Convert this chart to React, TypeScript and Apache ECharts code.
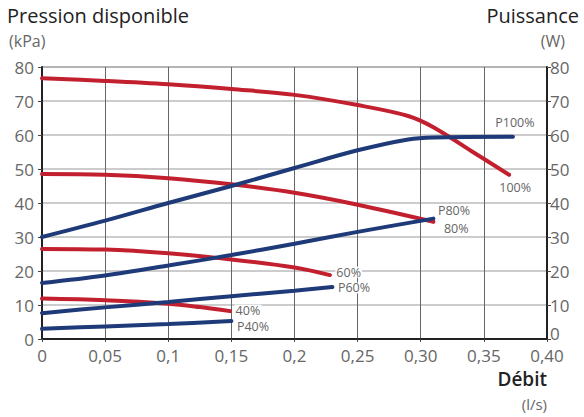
import { useEffect, useRef } from 'react';
import * as echarts from 'echarts';

// x axis: flow (l/s), y axes: pressure (kPa) left, power (W) right
const xTickLabels = ['0', '0,05', '0,1', '0,15', '0,2', '0,25', '0,30', '0,35', '0,40'];

// pressure curves (red)
const pressure100 = [
    [0, 76.7], [0.05, 75.9], [0.1, 74.9], [0.15, 73.5], [0.2, 71.8], [0.25, 68.8],
    [0.29, 65.6], [0.31, 62.3], [0.34, 55.3], [0.37, 48.3],
];
const pressure80 = [[0, 48.5], [0.05, 48.3], [0.1, 47.3], [0.15, 45.5], [0.2, 43], [0.25, 39.5], [0.31, 34.5]];
const pressure60 = [[0, 26.5], [0.05, 26.3], [0.1, 25.2], [0.15, 23.4], [0.2, 21], [0.228, 18.8]];
const pressure40 = [[0, 11.9], [0.05, 11.4], [0.1, 10.4], [0.125, 9.4], [0.149, 8.2]];

// power curves (blue)
const power100 = [
    [0, 30], [0.05, 34.8], [0.1, 40], [0.15, 45], [0.2, 50.3], [0.25, 55.5],
    [0.29, 58.7], [0.31, 59.3], [0.373, 59.5],
];
const power80 = [[0, 16.5], [0.05, 18.7], [0.1, 21.6], [0.15, 24.7], [0.2, 28], [0.25, 31.5], [0.31, 35.4]];
const power60 = [[0, 7.6], [0.05, 9.3], [0.1, 10.9], [0.15, 12.6], [0.2, 14.2], [0.23, 15.3]];
const power40 = [[0, 3.0], [0.05, 3.7], [0.1, 4.4], [0.15, 5.3]];

const RED = '#c2202f';
const BLUE = '#1e3a78';
const FONT = 'Open Sans';

function curve(name: string, data: number[][], color: string, yAxisIndex: number, label: any) {
    const last = data.length - 1;
    return {
        name,
        type: 'line',
        yAxisIndex,
        smooth: 0.35,
        symbol: 'none',
        itemStyle: { color },
        lineStyle: { width: 4, color, cap: 'round' },
        data: data.map((p, i) =>
            i === last
                ? {
                      value: p,
                      symbol: 'circle',
                      symbolSize: 3,
                      label: {
                          show: true,
                          formatter: name,
                          color: '#666',
                          fontSize: 12.5,
                          lineHeight: 11,
                          fontFamily: FONT,
                          backgroundColor: '#fff',
                          padding: [0, 1],
                          ...label,
                      },
                  }
                : p
        ),
    };
}

export default function App() {
    const chartRef = useRef<HTMLDivElement>(null);

    useEffect(() => {
        if (!chartRef.current) return;
        const chart = echarts.init(chartRef.current, undefined, { renderer: 'svg' });

        const yAxisBase = {
            type: 'value',
            min: 0,
            max: 80,
            interval: 10,
            axisLine: { show: true, lineStyle: { color: '#222', width: 2 } },
            axisTick: { show: true, length: 4, lineStyle: { color: '#444' } },
        };

        chart.setOption({
            animation: false,
            grid: {
                left: 42,
                right: 37,
                top: 67,
                bottom: 78,
                show: true,
                borderColor: '#444',
                borderWidth: 1,
            },
            xAxis: {
                type: 'value',
                min: 0,
                max: 0.4,
                interval: 0.05,
                axisLine: { show: true, lineStyle: { color: '#222', width: 2 } },
                axisTick: { show: true, length: 3, lineStyle: { color: '#444' } },
                axisLabel: {
                    color: '#666',
                    fontSize: 17,
                    lineHeight: 14,
                    fontFamily: FONT,
                    margin: 9,
                    formatter: (v: number) => xTickLabels[Math.round(v / 0.05)] ?? '',
                },
                splitLine: { show: true, lineStyle: { color: '#666', width: 1 } },
            },
            yAxis: [
                {
                    ...yAxisBase,
                    position: 'left',
                    axisLabel: { color: '#666', fontSize: 17, lineHeight: 12, fontFamily: FONT, margin: 8 },
                    splitLine: { show: true, lineStyle: { color: '#bbb', width: 1.5 } },
                },
                {
                    ...yAxisBase,
                    position: 'right',
                    axisLabel: {
                        color: '#666',
                        fontSize: 17,
                        lineHeight: 12,
                        fontFamily: FONT,
                        margin: 3,
                        // the 0 sits a little higher, clear of the 0,40 below it
                        formatter: (v: number) => (v === 0 ? '{z|0}' : String(v)),
                        rich: { z: { color: '#666', fontSize: 17, lineHeight: 12, fontFamily: FONT, padding: [0, 0, 12, 0] } },
                    },
                    splitLine: { show: false },
                },
            ],
            graphic: [
                { type: 'text', left: 7, top: 5, style: { text: 'Pression disponible', fontSize: 20, fontWeight: 500, fontFamily: FONT, fill: '#222' } },
                { type: 'text', left: 9, top: 33, style: { text: '(kPa)', fontSize: 16, fontFamily: FONT, fill: '#666' } },
                { type: 'text', right: 5, top: 5, style: { text: 'Puissance', fontSize: 20, fontWeight: 500, fontFamily: FONT, fill: '#222' } },
                { type: 'text', right: 19, top: 33, style: { text: '(W)', fontSize: 16, fontFamily: FONT, fill: '#666' } },
                { type: 'text', right: 37, top: 369, style: { text: 'Débit', fontSize: 19, fontWeight: 600, fontFamily: FONT, fill: '#222' } },
                { type: 'text', right: 37, top: 396, style: { text: '(l/s)', fontSize: 15, fontFamily: FONT, fill: '#666' } },
            ],
            series: [
                curve('100%', pressure100, RED, 0, { position: 'bottom', distance: 6, offset: [6, 0] }),
                curve('80%', pressure80, RED, 0, { position: 'right', distance: 8, offset: [0, 7] }),
                curve('60%', pressure60, RED, 0, { position: 'right', distance: 4, offset: [0, -3] }),
                curve('40%', pressure40, RED, 0, { position: 'right', distance: 3, offset: [0, -1] }),
                curve('P100%', power100, BLUE, 1, { position: 'top', distance: 7, offset: [2, 0] }),
                curve('P80%', power80, BLUE, 1, { position: 'right', distance: 2, offset: [0, -8] }),
                curve('P60%', power60, BLUE, 1, { position: 'right', distance: 3, offset: [0, 1] }),
                curve('P40%', power40, BLUE, 1, { position: 'right', distance: 3, offset: [0, 6] }),
            ],
        });

        return () => {
            chart.dispose();
        };
    }, []);

    return (
        <div
            ref={chartRef}
            style={{ position: 'absolute', left: 0, top: 0, width: 584, height: 417, background: '#fff' }}
        />
    );
}
